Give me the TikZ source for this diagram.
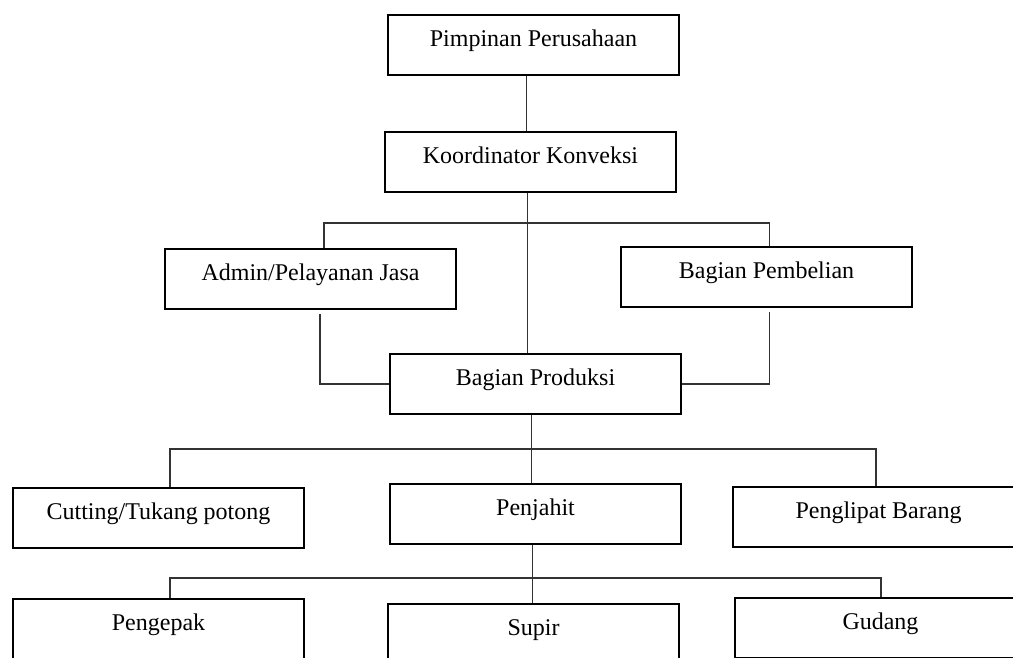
\documentclass[tikz,border=0pt]{standalone}
\usepackage{fontspec}
\setmainfont{Liberation Serif}
\usetikzlibrary{positioning,calc}

\begin{document}
\begin{tikzpicture}[
  x=1pt, y=-1pt,
  orgbox/.style={draw=black, line width=2pt, fill=white,
                 minimum width=291pt, inner xsep=4pt, inner ysep=0pt,
                 text height=31pt, text depth=29pt, anchor=north west,
                 font=\fontsize{24}{28}\selectfont},
  conn/.style={draw=black!80, line width=1.2pt},
]

% ---- canvas ----
\path[use as bounding box, fill=white] (0,0) rectangle (1013,657);

% ---- top level ----
\node[orgbox] (pimpinan) at (387,14) {Pimpinan Perusahaan};
\node[orgbox] (koordinator) at (384,131) {Koordinator Konveksi};

% ---- staff ----
\node[orgbox] (admin) at (164,248) {Admin/Pelayanan Jasa};
\node[orgbox] (pembelian) at (620,246) {Bagian Pembelian};
\node[orgbox] (produksi) at (389,353) {Bagian Produksi};

% ---- production ----
\node[orgbox] (cutting) at (12,487) {Cutting/Tukang potong};
\node[orgbox] (penjahit) at (389,483) {Penjahit};
\node[orgbox] (penglipat) at (732,486) {Penglipat Barang};

% ---- last row ----
\node[orgbox] (pengepak) at (12,598) {Pengepak};
\node[orgbox] (supir) at (387,603) {Supir};
\node[orgbox] (gudang) at (734,597) {Gudang};

% Branch points
\coordinate (barA) at (527,223);
\coordinate (barB) at (530,449);
\coordinate (barC) at (531,578);

% Connectors
\draw[conn] ([xshift=-7pt]pimpinan.south) -- ([xshift=-4pt]koordinator.north);
\draw[conn] ([xshift=-3pt]koordinator.south) -- ([xshift=-3pt]koordinator.south |- produksi.north);
\draw[conn] ([xshift=13.5pt]admin.north) |- (barA) -| ([xshift=3pt]pembelian.north);
\draw[conn] ([xshift=9.5pt,yshift=-4pt]admin.south) |- (produksi.west);
\draw[conn] ([xshift=3pt,yshift=-4pt]pembelian.south) |- (produksi.east);

\draw[conn] ([xshift=-4pt]produksi.south) -- ([xshift=-4pt]produksi.south |- penjahit.north);
\draw[conn] ([xshift=11.5pt]cutting.north) |- (barB) -| ([xshift=-2.5pt]penglipat.north);

\draw[conn] ([xshift=-3pt]penjahit.south) -- ([xshift=-3pt]penjahit.south |- supir.north);
\draw[conn] ([xshift=11.5pt]pengepak.north) |- (barC) -| ([xshift=0.5pt]gudang.north);

\end{tikzpicture}
\end{document}
